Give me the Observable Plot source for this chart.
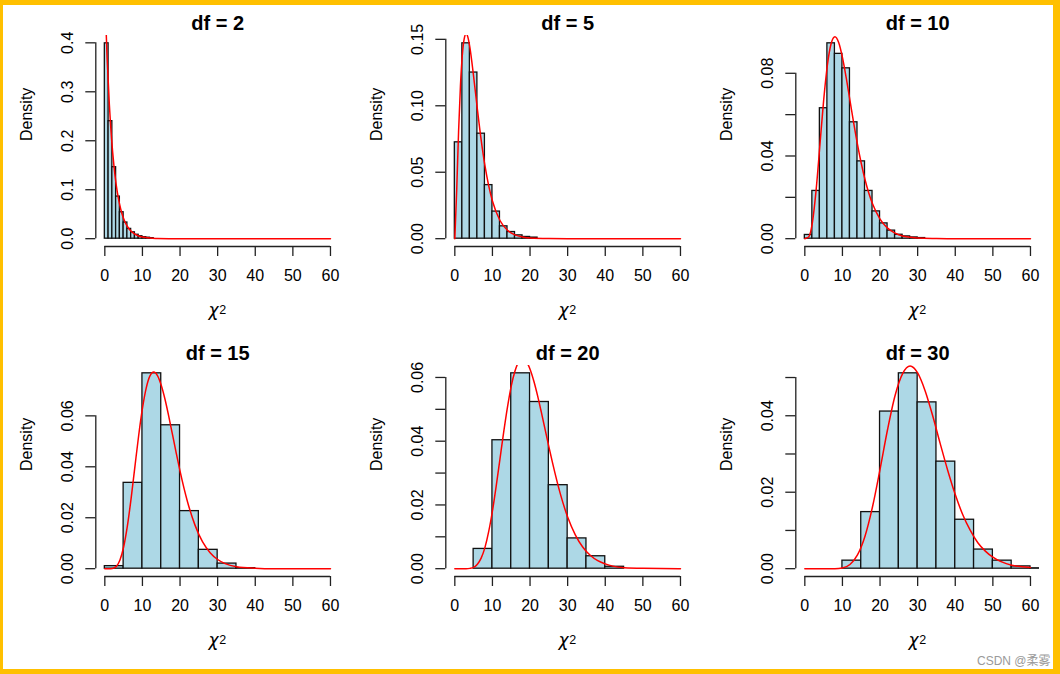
<!DOCTYPE html>
<html><head><meta charset="utf-8">
<script src="https://cdn.jsdelivr.net/npm/d3@7"></script>
<script src="https://cdn.jsdelivr.net/npm/@observablehq/plot@0.6"></script>
<style>
html,body{margin:0;padding:0;background:#fff;}
#page{position:relative;width:1060px;height:674px;overflow:hidden;background:#fff;}
.panel{position:absolute;}
#border{position:absolute;left:0;top:0;width:1060px;height:674px;box-sizing:border-box;border-style:solid;border-color:#FFC000;border-width:5px 7px 5px 3px;pointer-events:none;}
#wm{position:absolute;left:977px;top:651px;font-size:12px;font-family:"Liberation Sans","Noto Sans CJK SC",sans-serif;color:#9a9a9a;white-space:nowrap;}
</style></head><body><div id="page"></div>
<script>
// ---- data ----
const dfs = [2, 5, 10, 15, 20, 30];
const xTicks = [0, 10, 20, 30, 40, 50, 60];

const breaks2 = [0,1,2,3,4,5,6,7,8,9,10,11,12,13];
const dens2 = [0.399,0.240,0.146,0.086,0.054,0.033,0.020,0.013,0.008,0.005,0.003,0.002,0.001];
const breaks5 = [0,2,4,6,8,10,12,14,16,18,20,22];
const dens5 = [0.0725,0.147,0.125,0.079,0.0403,0.0204,0.0093,0.005,0.0025,0.0013,0.0008];
const breaks10 = [0,2,4,6,8,10,12,14,16,18,20,22,24,26,28,30,32];
const dens10 = [0.0018,0.0231,0.0631,0.0945,0.0894,0.0824,0.0563,0.0374,0.0231,0.0132,0.0074,0.0039,0.0019,0.0011,0.0006,0.0003];
const breaks15 = [0,5,10,15,20,25,30,35,40];
const dens15 = [0.0010,0.0337,0.0767,0.0563,0.0226,0.0074,0.0020,0.0002];
const breaks20 = [5,10,15,20,25,30,35,40,45];
const dens20 = [0.0062,0.0403,0.0613,0.0523,0.0262,0.0095,0.0039,0.0006];
const breaks30 = [10,15,20,25,30,35,40,45,50,55,60,65];
const dens30 = [0.0021,0.0148,0.0411,0.0511,0.0435,0.0280,0.0128,0.0050,0.0021,0.0006,0.0001];

const curveX2 = [0,0.6,1.2,1.8,2.4,3,3.6,4.2,4.8,5.4,6,7,8,9,10,12,14,17,20,60];
const curveY2 = [0.5,0.3704,0.2744,0.2033,0.1506,0.1116,0.0826,0.0612,0.0454,0.0336,0.0249,0.0151,0.0092,0.0056,0.0034,0.0012,0.0005,0.0001,0,0];
const curveX5 = [0,0.5,1,1.5,2,2.5,3,3.5,4,5,6,7,8,9,10,12,14,16,18,20,25,30,60];
const curveY5 = [0,0.0366,0.0807,0.1154,0.1384,0.1506,0.1542,0.1513,0.1440,0.1220,0.0973,0.0744,0.0551,0.0399,0.0283,0.0137,0.0064,0.0029,0.0013,0.0005,0.0001,0,0];
const curveX10 = [0,1,2,3,4,5,6,7,8,9,10,11,12,13,14,15,16,17,18,20,22,24,26,28,30,35,40,60];
const curveY10 = [0,0.0008,0.0077,0.0235,0.0451,0.0668,0.0840,0.0944,0.0977,0.0949,0.0877,0.0779,0.0669,0.0559,0.0456,0.0365,0.0286,0.0221,0.0169,0.0095,0.0051,0.0027,0.0013,0.0007,0.0003,0.0001,0,0];
const curveX15 = [0,1,2,3,4,5,6,7,8,9,10,11,12,13,14,15,16,17,18,19,20,22,24,26,28,30,32,35,40,45,60];
const curveY15 = [0,0,0.0001,0.0008,0.0033,0.0085,0.0168,0.0277,0.0401,0.0523,0.0629,0.0709,0.0757,0.0772,0.0758,0.0720,0.0665,0.0598,0.0526,0.0453,0.0383,0.0262,0.0170,0.0105,0.0063,0.0036,0.0020,0.0008,0.0002,0,0];
const curveX20 = [0,3,4,5,6,7,8,9,10,11,12,13,14,15,16,17,18,19,20,21,22,23,24,25,26,28,30,32,34,36,38,40,42,45,50,60];
const curveY20 = [0,0,0.0001,0.0004,0.0014,0.0033,0.0066,0.0116,0.0181,0.0259,0.0344,0.0429,0.0507,0.0573,0.0620,0.0650,0.0660,0.0650,0.0626,0.0589,0.0543,0.0491,0.0437,0.0383,0.0331,0.0237,0.0162,0.0107,0.0068,0.0042,0.0025,0.0015,0.0008,0.0003,0.0001,0];
const curveX30 = [0,6,8,10,12,14,16,18,20,22,24,26,28,30,32,34,36,38,40,42,44,46,48,50,55,60];
const curveY30 = [0,0,0,0.0002,0.0011,0.0036,0.0085,0.0162,0.0260,0.0364,0.0453,0.0510,0.0530,0.0512,0.0465,0.0400,0.0327,0.0257,0.0194,0.0141,0.0100,0.0068,0.0046,0.0030,0.0009,0.0003];

const yTicks2 = [0,0.1,0.2,0.3,0.4];          const yLabels2 = ["0.0","0.1","0.2","0.3","0.4"];
const yTicks5 = [0,0.05,0.10,0.15];           const yLabels5 = ["0.00","0.05","0.10","0.15"];
const yTicks10 = [0,0.02,0.04,0.06,0.08];     const yLabels10 = ["0.00","","0.04","","0.08"];
const yTicks15 = [0,0.02,0.04,0.06];          const yLabels15 = ["0.00","0.02","0.04","0.06"];
const yTicks20 = [0,0.01,0.02,0.03,0.04,0.05,0.06]; const yLabels20 = ["0.00","","0.02","","0.04","","0.06"];
const yTicks30 = [0,0.01,0.02,0.03,0.04,0.05];      const yLabels30 = ["0.00","","0.02","","0.04",""];

const xLabel = "χ";
const xLabelSup = "2";
const yLabel = "Density";
const watermark = "CSDN @柔雾";

// ---- assembly ----
const panels = [
  {breaks: breaks2, dens: dens2, cx: curveX2, cy: curveY2, yt: yTicks2, yl: yLabels2},
  {breaks: breaks5, dens: dens5, cx: curveX5, cy: curveY5, yt: yTicks5, yl: yLabels5},
  {breaks: breaks10, dens: dens10, cx: curveX10, cy: curveY10, yt: yTicks10, yl: yLabels10},
  {breaks: breaks15, dens: dens15, cx: curveX15, cy: curveY15, yt: yTicks15, yl: yLabels15},
  {breaks: breaks20, dens: dens20, cx: curveX20, cy: curveY20, yt: yTicks20, yl: yLabels20},
  {breaks: breaks30, dens: dens30, cx: curveX30, cy: curveY30, yt: yTicks30, yl: yLabels30}
];
const FONT = '"Liberation Sans", Arial, Helvetica, sans-serif';
const page = document.getElementById("page");
const xlim = [0, 60];

panels.forEach((p, i) => {
  const col = i % 3, row = Math.floor(i / 3);
  const bins = p.dens.map((d, j) => ({x1: p.breaks[j], x2: p.breaks[j + 1], y0: 0, y: d}));
  const curve = p.cx.map((x, j) => ({x, y: p.cy[j]}));
  const ymax = d3.max(p.dens);
  const yPad = 0.04 * ymax;
  const xPad = 0.04 * (xlim[1] - xlim[0]);
  const labelMap = new Map(p.yt.map((t, j) => [t, p.yl[j]]));
  const chart = Plot.plot({
    width: 350, height: 330,
    marginLeft: 95.3, marginRight: 11, marginTop: 35, marginBottom: 84,
    x: {domain: [xlim[0] - xPad, xlim[1] + xPad]},
    y: {domain: [-yPad, ymax + yPad]},
    style: {fontFamily: FONT, fontSize: "16px", color: "black", background: "transparent", overflow: "visible"},
    marks: [
      Plot.rect(bins, {x1: "x1", x2: "x2", y1: "y0", y2: "y", fill: "#ADD8E6", stroke: "#111", strokeWidth: 1.3, clip: true}),
      Plot.line(curve, {x: "x", y: "y", stroke: "#ff0000", strokeWidth: 1.5, curve: "monotone-x", clip: true}),
      Plot.ruleY([-yPad], {x1: xlim[0], x2: xlim[1], stroke: "#222", strokeWidth: 1.3}),
      Plot.ruleX([xlim[0] - xPad], {y1: 0, y2: d3.max(p.yt), stroke: "#222", strokeWidth: 1.3}),
      Plot.axisX(xTicks, {anchor: "bottom", tickSize: 10, tickPadding: 13, label: null, tickFormat: d => String(d), strokeWidth: 1.3, stroke: "#222"}),
      Plot.axisY(p.yt, {anchor: "left", tickSize: 10, tickPadding: 13, tickRotate: -90, label: null, tickFormat: d => labelMap.get(d), strokeWidth: 1.3, stroke: "#222"}),
      Plot.text(["df = " + dfs[i]], {text: d => d, frameAnchor: "top", dy: -6, lineAnchor: "bottom", fontSize: 20, fontWeight: "bold"}),
      Plot.text([yLabel], {text: d => d, frameAnchor: "left", rotate: -90, dx: -69, fontSize: 16}),
      Plot.text([xLabel], {text: d => d, frameAnchor: "bottom", dx: -4, dy: 69, lineAnchor: "bottom", fontSize: 17, fontFamily: '"DejaVu Sans", sans-serif', fontStyle: "italic"}),
      Plot.text([xLabelSup], {text: d => d, frameAnchor: "bottom", dx: 5, dy: 67, lineAnchor: "bottom", fontSize: 12.5})
    ]
  });
  chart.classList.add("panel");
  chart.style.left = (350 * col) + "px";
  chart.style.top = (330 * row) + "px";
  page.appendChild(chart);
});

const wm = document.createElement("div");
wm.id = "wm";
wm.textContent = watermark;
page.appendChild(wm);
const border = document.createElement("div");
border.id = "border";
page.appendChild(border);
</script>
</body></html>
